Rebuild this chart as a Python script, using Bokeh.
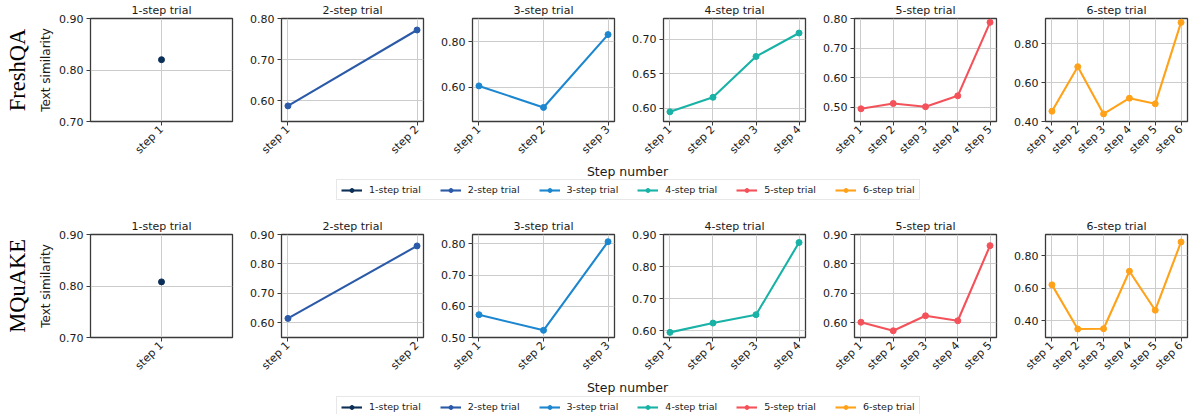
import math
from bokeh.plotting import figure
from bokeh.models import (Range1d, FixedTicker, PrintfTickFormatter, Title,
                          Legend, LegendItem, Label)
from bokeh.layouts import column, row
from bokeh.embed import file_html
from bokeh.resources import INLINE

# ---------------- data ----------------
trial_labels = ["1-step trial", "2-step trial", "3-step trial",
                "4-step trial", "5-step trial", "6-step trial"]
trial_colors = ["#0b2f57", "#2b5aa8", "#1c87cf", "#19b2a6", "#f4525a", "#ffa21a"]
dataset_names = ["FreshQA", "MQuAKE"]

freshqa_values = [
    [0.820],
    [0.587, 0.772],
    [0.606, 0.511, 0.832],
    [0.595, 0.616, 0.675, 0.709],
    [0.494, 0.512, 0.501, 0.538, 0.787],
    [0.453, 0.682, 0.439, 0.520, 0.491, 0.910],
]
mquake_values = [
    [0.808],
    [0.614, 0.861],
    [0.573, 0.523, 0.807],
    [0.595, 0.624, 0.650, 0.875],
    [0.601, 0.572, 0.623, 0.606, 0.862],
    [0.621, 0.349, 0.351, 0.705, 0.465, 0.885],
]
freshqa_ylims = [(0.70, 0.90), (0.549, 0.80), (0.449, 0.903),
                 (0.581, 0.730), (0.451, 0.80), (0.40, 0.93)]
mquake_ylims = [(0.70, 0.90), (0.549, 0.90), (0.50, 0.83),
                (0.579, 0.90), (0.549, 0.90), (0.297, 0.931)]
freshqa_yticks = [[0.70, 0.80, 0.90], [0.60, 0.70, 0.80], [0.60, 0.80],
                  [0.60, 0.65, 0.70], [0.50, 0.60, 0.70, 0.80], [0.40, 0.60, 0.80]]
mquake_yticks = [[0.70, 0.80, 0.90], [0.60, 0.70, 0.80, 0.90],
                 [0.50, 0.60, 0.70, 0.80], [0.60, 0.70, 0.80, 0.90],
                 [0.60, 0.70, 0.80, 0.90], [0.40, 0.60, 0.80]]
x_axis_label = "Step number"
y_axis_label = "Text similarity"

# ---------------- style ----------------
FONT = "DejaVu Sans"
SERIF = "Liberation Serif"
TXT = "#1a1a1a"
SPINE = "#3a3a3a"
FRAME_W, FRAME_H = 142, 103
TOTAL_W = 1190


def make_panel(i, values, ylim, yticks, dataset, first, last):
    n = len(values)
    xs = list(range(1, n + 1))
    pad = 0.05 * (n - 1) if n > 1 else 0.1
    p = figure(frame_width=FRAME_W, frame_height=FRAME_H,
               x_range=Range1d(1 - pad, n + pad), y_range=Range1d(*ylim),
               output_backend="svg", toolbar_location=None,
               min_border_left=88 if first else 41,
               min_border_right=5 if last else 8,
               min_border_top=18, min_border_bottom=38,
               background_fill_color="white", border_fill_color="white",
               outline_line_color=SPINE, outline_line_width=1.3,
               title=trial_labels[i])
    p.title.align = "center"
    p.title.text_font = FONT
    p.title.text_font_size = "11px"
    p.title.text_font_style = "normal"
    p.title.text_color = TXT
    p.title.standoff = 3

    p.line(xs, values, line_color=trial_colors[i], line_width=2.1)
    p.scatter(xs, values, size=6, fill_color=trial_colors[i], line_color=trial_colors[i])

    p.xaxis.ticker = FixedTicker(ticks=xs)
    p.xaxis.major_label_overrides = {x: f"step {x}" for x in xs}
    p.xaxis.major_label_orientation = math.pi / 4
    p.yaxis.ticker = FixedTicker(ticks=yticks)
    p.yaxis.formatter = PrintfTickFormatter(format="%.2f")
    for ax in (p.xaxis[0], p.yaxis[0]):
        ax.axis_line_color = None
        ax.major_tick_in = 0
        ax.major_tick_out = 4
        ax.major_tick_line_color = SPINE
        ax.minor_tick_line_color = None
        ax.major_label_text_font = FONT
        ax.major_label_text_font_size = "11px"
        ax.major_label_text_color = TXT
    p.xaxis.major_label_standoff = 2
    p.yaxis.major_label_standoff = 3
    p.grid.grid_line_color = "#cccccc"
    p.grid.grid_line_width = 1

    if first:
        p.add_layout(Title(text=y_axis_label, align="center", offset=-18,
                           text_font=FONT, text_font_size="12px",
                           text_font_style="normal", text_color=TXT, standoff=8), "left")
        p.add_layout(Title(text=dataset, align="center", offset=-18,
                           text_font=SERIF, text_font_size="22.5px",
                           text_font_style="normal", text_color="#000000", standoff=5), "left")
    return p


def make_mid(height, label_from_top, legend_bottom):
    m = figure(width=TOTAL_W, height=height, x_range=Range1d(0, TOTAL_W),
               y_range=Range1d(0, height), x_axis_type=None, y_axis_type=None,
               toolbar_location=None, output_backend="svg", min_border=0,
               outline_line_color=None, background_fill_color="white",
               border_fill_color="white")
    m.grid.visible = False
    items = []
    nan = float("nan")
    for i, c in enumerate(trial_colors):
        lr = m.line(x=[nan], y=[nan], line_color=c, line_width=2.1)
        sr = m.scatter(x=[nan], y=[nan], size=6, fill_color=c, line_color=c)
        items.append(LegendItem(label=trial_labels[i], renderers=[lr, sr]))
    leg = Legend(items=items, orientation="horizontal", location=(336, legend_bottom),
                 glyph_width=21, glyph_height=10, label_height=10, label_standoff=7,
                 spacing=19, padding=4, margin=0,
                 label_text_font=FONT, label_text_font_size="9.5px",
                 label_text_color=TXT, border_line_color="#d0d0d0",
                 border_line_width=1, background_fill_color="white",
                 background_fill_alpha=1)
    m.add_layout(leg, "center")
    m.add_layout(Label(x=627, y=height - label_from_top, text=x_axis_label,
                       text_align="center", text_baseline="middle",
                       text_font=FONT, text_font_size="12.5px", text_color=TXT))
    return m


rows = []
for d, (vals, ylims, yticks) in enumerate([(freshqa_values, freshqa_ylims, freshqa_yticks),
                                           (mquake_values, mquake_ylims, mquake_yticks)]):
    k = len(vals)
    panels = [make_panel(i, vals[i], ylims[i], yticks[i], dataset_names[d], i == 0, i == k - 1)
              for i in range(k)]
    rows.append(row(*panels))
    if d == 0:
        rows.append(make_mid(53, 8, 16))
    else:
        rows.append(make_mid(39, 8, 1))

layout = column(*rows)
open("out.html", "w").write(file_html(layout, INLINE))
